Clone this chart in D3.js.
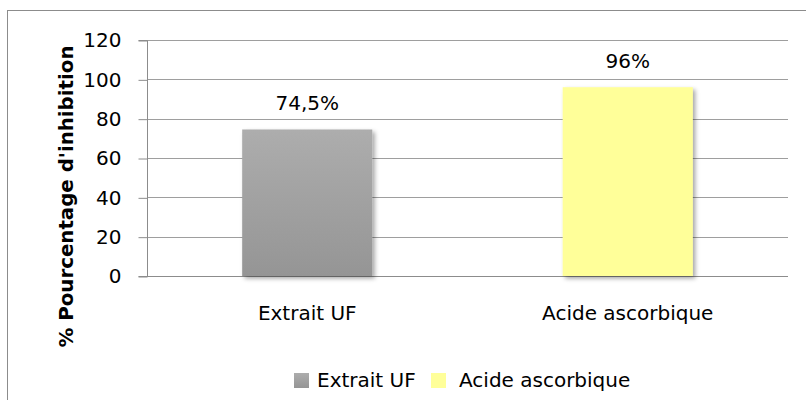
<!DOCTYPE html>
<html>
<head>
<meta charset="utf-8">
<script src="https://cdn.jsdelivr.net/npm/d3@7"></script>
<style>
  html, body { margin: 0; padding: 0; background: #fff; }
  svg { display: block; font-family: "DejaVu Sans", sans-serif; }
</style>
</head>
<body>
<svg id="chart" width="806" height="400"></svg>
<script>
// Inhibition percentage per sample
const categories = ["Extrait UF", "Acide ascorbique"];
const values = [74.5, 96];
const valueLabels = ["74,5%", "96%"];
const yTicks = [0, 20, 40, 60, 80, 100, 120];
const seriesColors = ["#a2a2a2", "#ffff99"];
const yTitle = "% Pourcentage d'inhibition";

const svg = d3.select("#chart");
const W = 806, H = 400;
const plot = { left: 147, right: 788, top: 40, bottom: 276 };
const FONT = 20;
const FAMILY = "'DejaVu Sans', sans-serif";

// Frame around the whole chart
svg.append("rect")
  .attr("x", 7.5).attr("y", 10.5)
  .attr("width", W - 7).attr("height", H)
  .attr("fill", "#fff").attr("stroke", "#8c8c8c").attr("stroke-width", 1);

const defs = svg.append("defs");
const grad = defs.append("linearGradient")
  .attr("id", "grayGrad").attr("x1", 0).attr("y1", 0).attr("x2", 0).attr("y2", 1);
grad.append("stop").attr("offset", "0%").attr("stop-color", "#adadad");
grad.append("stop").attr("offset", "100%").attr("stop-color", "#959595");

const shadow = defs.append("filter").attr("id", "shadow")
  .attr("x", "-10%").attr("y", "-10%").attr("width", "130%").attr("height", "130%");
shadow.append("feDropShadow")
  .attr("dx", 2.5).attr("dy", 2.5).attr("stdDeviation", 2)
  .attr("flood-color", "#000").attr("flood-opacity", 0.35);

const fills = ["url(#grayGrad)", seriesColors[1]];

const y = d3.scaleLinear().domain([0, 120]).range([plot.bottom, plot.top]);
const x = d3.scaleBand().domain(categories).range([plot.left, plot.right]).padding(0);
const barW = x.bandwidth() * 0.406;

// Horizontal gridlines
svg.append("g")
  .selectAll("line")
  .data(yTicks.filter(d => d > 0))
  .join("line")
  .attr("x1", plot.left).attr("x2", plot.right)
  .attr("y1", d => Math.round(y(d)) + 0.5).attr("y2", d => Math.round(y(d)) + 0.5)
  .attr("stroke", "#9e9e9e").attr("stroke-width", 1);

// Y axis with ticks
const yAxis = d3.axisLeft(y).tickValues(yTicks).tickSize(9).tickPadding(17);
const gy = svg.append("g")
  .attr("transform", `translate(${plot.left + 0.5},0.5)`)
  .call(yAxis);
gy.select(".domain").attr("stroke", "#8c8c8c").attr("d", `M-9,${plot.bottom}H0V${plot.top}H-9`);
gy.selectAll(".tick line").attr("stroke", "#8c8c8c");
gy.selectAll(".tick text")
  .attr("fill", "#000").attr("font-size", FONT)
  .attr("font-family", FAMILY);

// Baseline (x axis)
svg.append("line")
  .attr("x1", plot.left).attr("x2", plot.right)
  .attr("y1", Math.round(y(0)) + 0.5).attr("y2", Math.round(y(0)) + 0.5)
  .attr("stroke", "#8c8c8c");

// Bars
svg.append("g")
  .selectAll("rect")
  .data(values)
  .join("rect")
  .attr("x", (d, i) => x(categories[i]) + x.bandwidth() / 2 - barW / 2)
  .attr("y", d => y(d))
  .attr("width", barW)
  .attr("height", d => y(0) - y(d))
  .attr("fill", (d, i) => fills[i])
  .attr("filter", "url(#shadow)");

// Value labels above the bars
svg.append("g")
  .selectAll("text")
  .data(values)
  .join("text")
  .attr("x", (d, i) => x(categories[i]) + x.bandwidth() / 2)
  .attr("y", d => y(d) - 19.5)
  .attr("text-anchor", "middle")
  .attr("font-size", FONT)
  .attr("fill", "#000")
  .text((d, i) => valueLabels[i]);

// Category labels
svg.append("g")
  .selectAll("text")
  .data(categories)
  .join("text")
  .attr("x", d => x(d) + x.bandwidth() / 2)
  .attr("y", plot.bottom + 44)
  .attr("text-anchor", "middle")
  .attr("font-size", FONT)
  .attr("fill", "#000")
  .text(d => d);

// Y axis title
svg.append("text")
  .attr("transform", `translate(73,196.5) rotate(-90)`)
  .attr("text-anchor", "middle")
  .attr("font-size", 19.8)
  .attr("font-weight", "bold")
  .attr("fill", "#000")
  .text(yTitle);

// Legend
const legend = svg.append("g");
const legendItems = [
  { label: categories[0], fill: fills[0], sx: 294, tx: 317 },
  { label: categories[1], fill: seriesColors[1], sx: 431, tx: 459 }
];
legendItems.forEach(it => {
  legend.append("rect")
    .attr("x", it.sx).attr("y", 373).attr("width", 15).attr("height", 15)
    .attr("fill", it.fill);
  legend.append("text").attr("x", it.tx).attr("y", 387)
    .attr("font-size", FONT).attr("fill", "#000").text(it.label);
});
</script>
</body>
</html>
